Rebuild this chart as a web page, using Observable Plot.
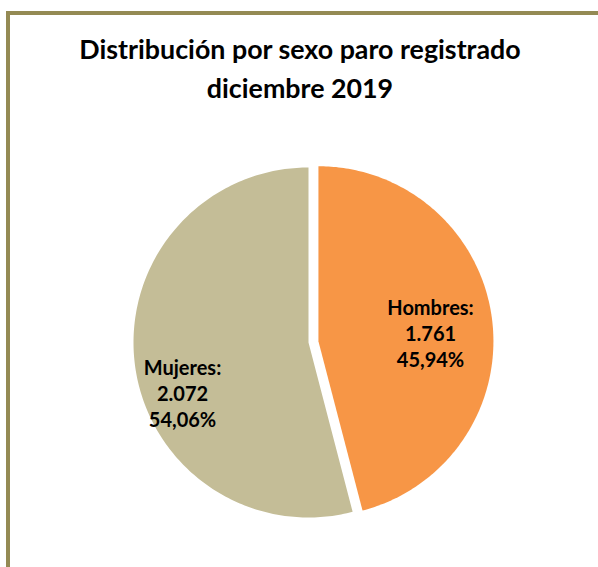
<!DOCTYPE html>
<html>
<head>
<meta charset="utf-8">
<script src="https://cdn.jsdelivr.net/npm/d3@7"></script>
<script src="https://cdn.jsdelivr.net/npm/@observablehq/plot@0.6"></script>
<style>
  html, body { margin: 0; padding: 0; background: #fff; width: 598px; height: 567px; overflow: hidden; }
  #frame { position: absolute; left: 6px; top: 11px; width: 700px; height: 700px;
           border-left: 4px solid #948A54; border-top: 4px solid #948A54; box-sizing: border-box; }
  #title { position: absolute; left: 0; top: 30px; width: 600px; text-align: center;
           font-family: Lato, "Open Sans", sans-serif; font-weight: bold; font-size: 26.8px;
           line-height: 39px; color: #000; }
  #chart { position: absolute; left: 0; top: 130px; }
</style>
</head>
<body>
<div id="frame"></div>
<div id="title">Distribución por sexo paro registrado<br>diciembre 2019</div>
<div id="chart"></div>
<script>
// ---- data ----
const categories = ["Hombres", "Mujeres"];
const values = [1761, 2072];
const colors = ["#F79646", "#C4BD97"];
const explode = [1, 0]; // Hombres slice is pulled out

// ---- layout ----
const W = 598, H = 437;
const cx = 308, cy = 212, Rpx = 175, explodePx = 10;

const total = d3.sum(values);
const pie = d3.pie().sort(null)(values);
const loc = d3.formatLocale({decimal: ",", thousands: ".", grouping: [3], currency: ["", "€"]});
const fmtNum = loc.format(",d");
const fmtPct = loc.format(".2%");

const off = explodePx / Rpx;
const polys = [];
const labels = [];
pie.forEach((p, i) => {
  const mid = (p.startAngle + p.endAngle) / 2;
  const ox = explode[i] * off * Math.sin(mid);
  const oy = explode[i] * off * Math.cos(mid);
  const n = 200;
  polys.push({cat: categories[i], x: ox, y: oy, k: 0});
  for (let j = 0; j <= n; j++) {
    const a = p.startAngle + (p.endAngle - p.startAngle) * j / n;
    polys.push({cat: categories[i], x: ox + Math.sin(a), y: oy + Math.cos(a), k: j + 1});
  }
  polys.push({cat: categories[i], x: ox, y: oy, k: n + 2});
  labels.push({
    cat: categories[i],
    mid, ox, oy,
    text: `${categories[i]}:\n${fmtNum(values[i])}\n${fmtPct(values[i] / total)}`
  });
});

// label placement (Excel "best fit"): along the slice's bisector, with a nudge
const labelR = [0.64, 0.72];
const labelNudge = [[1, 6], [-1, 34]];
labels.forEach((l, i) => {
  l.x = l.ox + labelR[i] * Math.sin(l.mid);
  l.y = l.oy + labelR[i] * Math.cos(l.mid);
  l.dx = labelNudge[i][0];
  l.dy = labelNudge[i][1];
});

const chart = Plot.plot({
  width: W,
  height: H,
  margin: 0,
  style: {background: "transparent", overflow: "visible"},
  x: {domain: [-cx / Rpx, (W - cx) / Rpx], range: [0, W], axis: null},
  y: {domain: [-(H - cy) / Rpx, cy / Rpx], range: [H, 0], axis: null},
  color: {domain: categories, range: colors},
  marks: [
    Plot.line(polys, {x: "x", y: "y", z: "cat", fill: "cat", stroke: "none", curve: "linear", sort: "k"}),
    ...labels.map(l => Plot.text([l], {
      x: "x", y: "y", text: "text", dx: l.dx, dy: l.dy,
      fontSize: 20, fontWeight: "bold", fontFamily: "Lato, 'Open Sans', sans-serif",
      fill: "#000", lineHeight: 1.3, textAnchor: "middle"
    }))
  ]
});
document.getElementById("chart").appendChild(chart);
</script>
</body>
</html>
